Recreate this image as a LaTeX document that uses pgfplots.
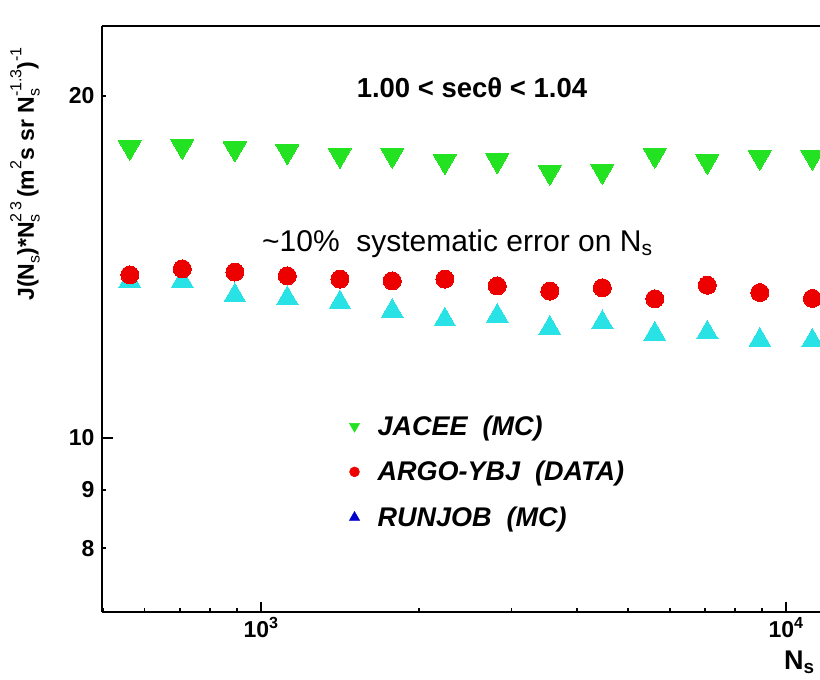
\documentclass[border=0pt]{standalone}
\usepackage{pgfplots}
\pgfplotsset{compat=1.18}
\usepackage{fontspec}
\setmainfont{Liberation Sans}
\definecolor{jgreen}{RGB}{34,226,34}
\definecolor{ared}{RGB}{236,0,0}
\definecolor{rcyan}{RGB}{40,226,230}
\definecolor{rblue}{RGB}{0,0,205}
\newcommand{\sps}[1]{\raisebox{0.55em}{\mdseries\fontsize{16}{16}\selectfont #1}}
\newcommand{\sbs}[1]{\raisebox{-0.25em}{\mdseries\fontsize{16}{16}\selectfont #1}}
\begin{document}
\begin{tikzpicture}[x=1pt,y=1pt]
\useasboundingbox (0,0) rectangle (820,680);
\begin{axis}[
  at={(102pt,68pt)}, anchor=south west,
  scale only axis, width=718pt, height=586pt,
  xmode=log, ymode=log,
  xmin=497.8, xmax=11605, ymin=7.03, ymax=23.05,
  axis x line*=bottom, axis y line*=left,
  axis line style={line width=2.5pt, black},
  clip=false,
  tick align=inside,
  every tick/.style={black, line width=1.8pt},
  major tick length=10.5pt, minor tick length=4pt,
  xtick={1000,10000},
  xticklabels={10\textsuperscript{3},10\textsuperscript{4}},
  minor xtick={500,600,700,800,900,2000,3000,4000,5000,6000,7000,8000,9000},
  ytick={10}, yticklabels={10},
  minor ytick={},
  extra y ticks={8,9,20}, extra y tick labels={8,9,20},
  extra y tick style={major tick length=4pt},
  ticklabel style={font=\bfseries\fontsize{23}{23}\selectfont},
  yticklabel style={xshift=-4pt},
  xticklabel style={yshift=-2pt},
  legend style={at={(0.34,0.342)}, anchor=north west, draw=none, fill=none,
    font=\bfseries\itshape\fontsize{27}{27}\selectfont, row sep=20.5pt, column sep=16pt},
  legend cell align=left,
]
\addplot[only marks, mark=triangle*, mark size=13.3pt,
  mark options={rotate=180, fill=jgreen, draw=jgreen, line width=0pt}, forget plot]
  coordinates {(562.3,18.04) (707.9,18.07) (891.3,17.98) (1122,17.88) (1413,17.75)
  (1778,17.75) (2239,17.53) (2818,17.56) (3548,17.15) (4467,17.18) (5623,17.75)
  (7079,17.53) (8913,17.68) (11220,17.68)};
\addplot[only marks, mark=triangle*, mark size=12.5pt,
  mark options={fill=rcyan, draw=rcyan, line width=0pt}, forget plot]
  coordinates {(562.3,13.75) (707.9,13.75) (891.3,13.35) (1122,13.27) (1413,13.16)
  (1778,12.94) (2239,12.71) (2818,12.81) (3548,12.50) (4467,12.64) (5623,12.35)
  (7079,12.38) (8913,12.20) (11220,12.18)};
\addplot[only marks, mark=*, mark size=9pt,
  mark options={fill=ared, draw=ared, line width=0pt}, forget plot]
  coordinates {(562.3,13.92) (707.9,14.09) (891.3,14.00) (1122,13.89) (1413,13.80)
  (1778,13.75) (2239,13.80) (2818,13.61) (3548,13.47) (4467,13.56) (5623,13.26)
  (7079,13.63) (8913,13.43) (11220,13.27)};
\addlegendimage{only marks, mark=triangle*, mark size=6pt, mark options={rotate=180, fill=jgreen, draw=jgreen}}
\addlegendentry{JACEE\ \ (MC)}
\addlegendimage{only marks, mark=*, mark size=5pt, mark options={fill=ared, draw=ared}}
\addlegendentry{ARGO-YBJ\ \ (DATA)}
\addlegendimage{only marks, mark=triangle*, mark size=6pt, mark options={fill=rblue, draw=rblue}}
\addlegendentry{RUNJOB\ \ (MC)}
\draw[line width=2.5pt, black] (rel axis cs:0,1) -- (rel axis cs:1.02,1);
\end{axis}
\node[anchor=center, font=\bfseries\fontsize{27.5}{27.5}\selectfont] at (472,592) {1.00 < secθ < 1.04};
\node[anchor=base west, inner sep=0pt, font=\fontsize{30}{30}\selectfont] at (262,428)
  {\textasciitilde10\%\ \ systematic error on N\textsubscript{s}};
\node[rotate=90, anchor=center, font=\bfseries\fontsize{23}{23}\selectfont] at (25,506)
  {J(N\sbs{s})*N\rlap{\sbs{s}}\sps{2\,3}\,(m\sps{2}s sr N\rlap{\sbs{s}}\sps{-1.3})\sps{-1}};
\node[anchor=base west, inner sep=0pt, font=\bfseries\fontsize{27}{27}\selectfont] at (784,10) {N\textsubscript{s}};
\end{tikzpicture}
\end{document}
